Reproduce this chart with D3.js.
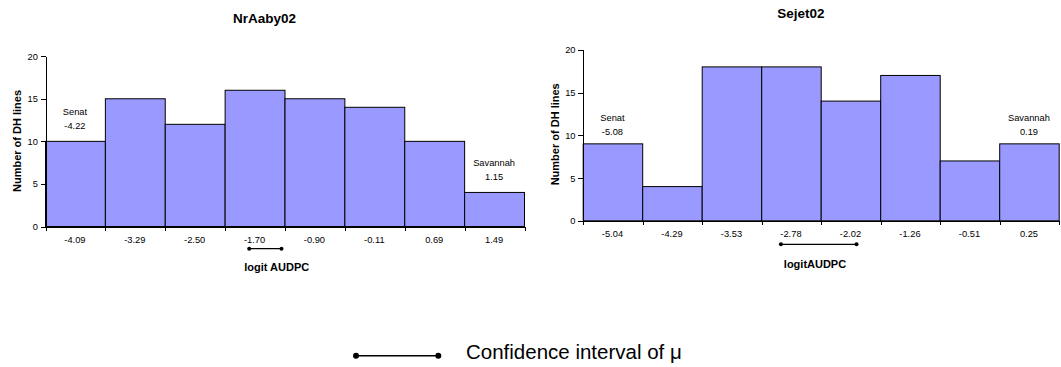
<!DOCTYPE html>
<html>
<head>
<meta charset="utf-8">
<script src="https://cdn.jsdelivr.net/npm/d3@7"></script>
<style>
  html, body { margin: 0; padding: 0; background: #fff; }
  svg { display: block; font-family: "Liberation Sans", Arial, sans-serif; }
  .axis path, .axis line { stroke: #000; shape-rendering: crispEdges; }
  .axis text { fill: #000; font-size: 9.3px; }
</style>
</head>
<body>
<svg id="chart" width="1061" height="367"></svg>
<script>
// Histogram of logit AUDPC for the DH lines, two trial sites
const nrAabyBins = ["-4.09", "-3.29", "-2.50", "-1.70", "-0.90", "-0.11", "0.69", "1.49"];
const nrAabyCounts = [10, 15, 12, 16, 15, 14, 10, 4];
const nrAabyCI = [-1.77, -1.34];
const nrAabyParents = [
  { name: "Senat", value: "-4.22", bin: 0 },
  { name: "Savannah", value: "1.15", bin: 7 }
];

const sejetBins = ["-5.04", "-4.29", "-3.53", "-2.78", "-2.02", "-1.26", "-0.51", "0.25"];
const sejetCounts = [9, 4, 18, 18, 14, 17, 7, 9];
const sejetCI = [-2.90, -1.94];
const sejetParents = [
  { name: "Senat", value: "-5.08", bin: 0 },
  { name: "Savannah", value: "0.19", bin: 7 }
];

const yTicks = [0, 5, 10, 15, 20];
const legendText = "Confidence interval of \u03bc";

const svg = d3.select("#chart");

function drawPanel(p) {
  const g = svg.append("g");
  const x = d3.scaleBand().domain(p.bins).range([p.x0, p.x1]).paddingInner(0).paddingOuter(0);
  const y = d3.scaleLinear().domain([0, 20]).range([p.y0, p.y1]);

  // continuous logit scale aligned with the bin centres
  const centres = p.bins.map(Number);
  const step = (centres[centres.length - 1] - centres[0]) / (centres.length - 1);
  const xv = d3.scaleLinear()
    .domain([centres[0] - step / 2, centres[centres.length - 1] + step / 2])
    .range([p.x0, p.x1]);

  // bars
  g.selectAll("rect.bar")
    .data(p.counts)
    .join("rect")
    .attr("class", "bar")
    .attr("x", (d, i) => x(p.bins[i]) + 0.5)
    .attr("y", d => y(d) + 0.5)
    .attr("width", x.bandwidth())
    .attr("height", d => y(0) - y(d))
    .attr("fill", "#9999ff")
    .attr("stroke", "#000")
    .attr("stroke-width", 1);

  // y axis
  const ya = g.append("g")
    .attr("class", "axis")
    .attr("transform", `translate(${p.x0 + 0.5},0.5)`)
    .call(d3.axisLeft(y).tickValues(yTicks).tickSize(5).tickSizeOuter(0).tickPadding(2.7));

  // x axis: tick marks at bin edges
  const edges = d3.range(p.bins.length + 1).map(i => xv.domain()[0] + i * step);
  g.append("g")
    .attr("class", "axis")
    .attr("transform", `translate(0.5,${p.y0 + 0.5})`)
    .call(d3.axisBottom(xv).tickValues(edges).tickFormat("").tickSize(4).tickSizeOuter(0));

  // x axis: bin labels at bin centres
  const xl = g.append("g")
    .attr("class", "axis")
    .attr("transform", `translate(0,${p.y0})`)
    .call(d3.axisBottom(x).tickSize(0).tickPadding(p.labelPad));
  xl.select(".domain").remove();

  // title
  g.append("text")
    .attr("x", p.titleX).attr("y", p.titleY).attr("dy", "0.35em")
    .attr("text-anchor", "middle")
    .attr("font-size", "13.5px").attr("font-weight", "bold")
    .text(p.title);

  // axis titles
  g.append("text")
    .attr("transform", `translate(${p.yTitleX},${p.yTitleY}) rotate(-90)`)
    .attr("dy", "0.35em")
    .attr("text-anchor", "middle")
    .attr("font-size", "11px").attr("font-weight", "bold")
    .text("Number of DH lines");

  g.append("text")
    .attr("x", p.xTitleX).attr("y", p.xTitleY).attr("dy", "0.35em")
    .attr("text-anchor", "middle")
    .attr("font-size", "11px").attr("font-weight", "bold")
    .text(p.xTitle);

  // confidence interval of the mean
  const ci = g.append("g");
  ci.append("line")
    .attr("x1", xv(p.ci[0])).attr("x2", xv(p.ci[1]))
    .attr("y1", p.ciY).attr("y2", p.ciY)
    .attr("stroke", "#000").attr("stroke-width", 1.3);
  ci.selectAll("circle")
    .data(p.ci)
    .join("circle")
    .attr("cx", d => xv(d)).attr("cy", p.ciY).attr("r", 2)
    .attr("fill", "#000");

  // parent lines
  p.parents.forEach(par => {
    const cx = x(p.bins[par.bin]) + x.bandwidth() / 2;
    const vy = y(p.counts[par.bin]) - p.annoOffset;
    g.append("text")
      .attr("x", cx).attr("y", vy - 13.5).attr("dy", "0.35em")
      .attr("text-anchor", "middle").attr("font-size", "9.3px")
      .text(par.name);
    g.append("text")
      .attr("x", cx).attr("y", vy).attr("dy", "0.35em")
      .attr("text-anchor", "middle").attr("font-size", "9.3px")
      .text(par.value);
  });
}

drawPanel({
  title: "NrAaby02", xTitle: "logit AUDPC",
  bins: nrAabyBins, counts: nrAabyCounts, ci: nrAabyCI, parents: nrAabyParents,
  x0: 45, x1: 524, y0: 226, y1: 55.7,
  labelPad: 10.5,
  titleX: 264.5, titleY: 18.3,
  yTitleX: 17.5, yTitleY: 141,
  xTitleX: 276.7, xTitleY: 267.3,
  ciY: 248.7, annoOffset: 15.3
});

drawPanel({
  title: "Sejet02", xTitle: "logitAUDPC",
  bins: sejetBins, counts: sejetCounts, ci: sejetCI, parents: sejetParents,
  x0: 582.7, x1: 1058.7, y0: 220.3, y1: 49.3,
  labelPad: 9.7,
  titleX: 801, titleY: 12.8,
  yTitleX: 555, yTitleY: 134.3,
  xTitleX: 815, xTitleY: 264.3,
  ciY: 244.3, annoOffset: 11.7
});

// legend
const lg = svg.append("g");
lg.append("line")
  .attr("x1", 356).attr("x2", 438.3).attr("y1", 355.7).attr("y2", 355.7)
  .attr("stroke", "#000").attr("stroke-width", 1.6);
lg.selectAll("circle")
  .data([356, 438.3])
  .join("circle")
  .attr("cx", d => d).attr("cy", 355.7).attr("r", 3)
  .attr("fill", "#000");
lg.append("text")
  .attr("x", 466).attr("y", 359)
  .attr("font-size", "20.5px")
  .text(legendText);
</script>
</body>
</html>
